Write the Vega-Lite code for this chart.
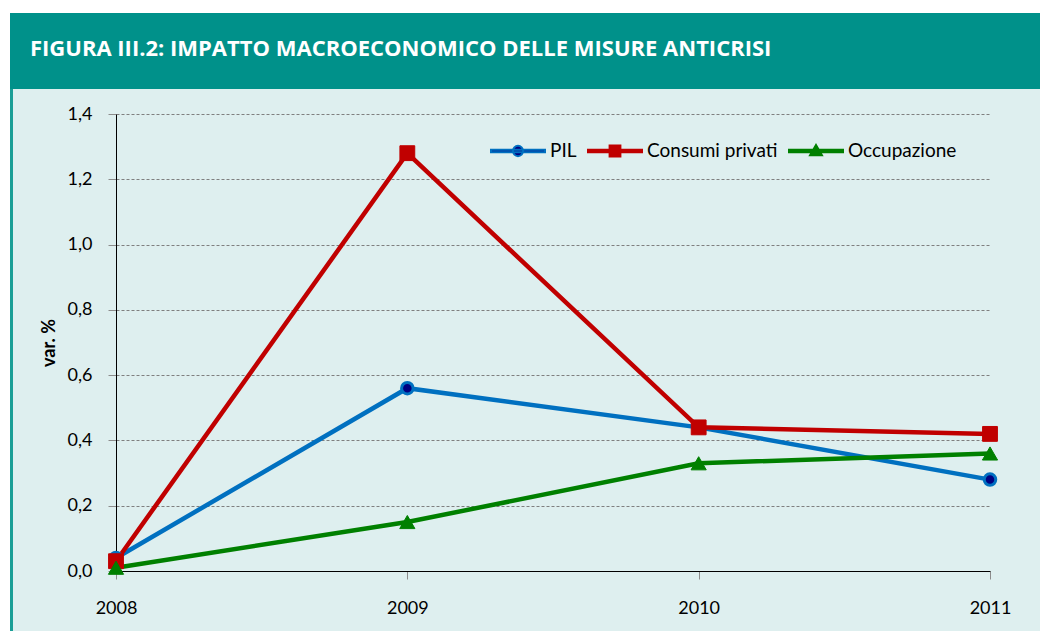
{
  "$schema": "https://vega.github.io/schema/vega-lite/v6.json",
  "background": "#DEEFEF",
  "padding": 0,
  "spacing": 0,
  "bounds": "flush",
  "config": {
    "view": {"stroke": null},
    "font": "Lato"
  },
  "vconcat": [
    {
      "width": 1040, "height": 13,
      "view": {"fill": "white", "stroke": null},
      "data": {"values": []},
      "mark": "point"
    },
    {
      "spacing": 0,
      "bounds": "flush",
      "hconcat": [
        {
          "width": 10, "height": 618,
          "view": {"fill": "white", "stroke": null},
          "data": {"values": []},
          "mark": "point"
        },
        {
          "spacing": 0,
          "bounds": "flush",
          "vconcat": [
            {
              "width": 1030, "height": 76,
              "view": {"fill": "#00918A", "stroke": null},
              "title": {
                "text": "FIGURA III.2: IMPATTO MACROECONOMICO DELLE MISURE ANTICRISI",
                "anchor": "start",
                "frame": "group",
                "orient": "top",
                "offset": 0,
                "dx": 20,
                "dy": 48,
                "font": "Open Sans",
                "fontSize": 22,
                "fontWeight": "bold",
                "color": "white"
              },
              "data": {"values": []},
              "mark": "point"
            },
            {
              "spacing": 103,
              "bounds": "flush",
              "hconcat": [
                {
                  "width": 3, "height": 542,
                  "view": {"fill": "#1A9E96", "stroke": null},
                  "data": {"values": []},
                  "mark": "point"
                },
                {
                  "spacing": 0,
                  "bounds": "flush",
                  "vconcat": [
                    {
                      "width": 1, "height": 25,
                      "data": {"values": []},
                      "mark": "point"
                    },
                    {
                      "width": 874,
                      "height": 457,
                      "data": {
                        "values": [
                          {"anno": 2008, "serie": "PIL", "valore": 0.04},
                          {"anno": 2009, "serie": "PIL", "valore": 0.56},
                          {"anno": 2010, "serie": "PIL", "valore": 0.44},
                          {"anno": 2011, "serie": "PIL", "valore": 0.28},
                          {"anno": 2008, "serie": "Consumi privati", "valore": 0.03},
                          {"anno": 2009, "serie": "Consumi privati", "valore": 1.28},
                          {"anno": 2010, "serie": "Consumi privati", "valore": 0.44},
                          {"anno": 2011, "serie": "Consumi privati", "valore": 0.42},
                          {"anno": 2008, "serie": "Occupazione", "valore": 0.01},
                          {"anno": 2009, "serie": "Occupazione", "valore": 0.15},
                          {"anno": 2010, "serie": "Occupazione", "valore": 0.33},
                          {"anno": 2011, "serie": "Occupazione", "valore": 0.36}
                        ]
                      },
                      "encoding": {
                        "x": {
                          "field": "anno",
                          "type": "quantitative",
                          "scale": {"domain": [2008, 2011], "nice": false, "zero": false},
                          "axis": {
                            "title": null,
                            "values": [2008, 2009, 2010, 2011],
                            "format": "d",
                            "grid": false,
                            "labelFlush": false,
                            "domainColor": "black",
                            "domainWidth": 1,
                            "tickColor": "#8C8C8C",
                            "tickSize": 8,
                            "labelFont": "Lato",
                            "labelFontSize": 18,
                            "labelColor": "black",
                            "labelPadding": 20
                          }
                        },
                        "y": {
                          "field": "valore",
                          "type": "quantitative",
                          "scale": {"domain": [0, 1.4], "nice": false},
                          "axis": {
                            "title": "var. %",
                            "titleFont": "Lato",
                            "titleFontSize": 18,
                            "titleFontWeight": "bold",
                            "titleColor": "black",
                            "titlePadding": 9,
                            "values": [0, 0.2, 0.4, 0.6, 0.8, 1.0, 1.2, 1.4],
                            "labelExpr": "replace(format(datum.value, '.1f'), '.', ',')",
                            "grid": true,
                            "gridColor": "#7F7F7F",
                            "gridDash": [3, 2],
                            "gridWidth": 1,
                            "domainColor": "black",
                            "domainWidth": 1,
                            "tickColor": "#8C8C8C",
                            "tickSize": 8,
                            "labelFont": "Lato",
                            "labelFontSize": 18,
                            "labelColor": "black",
                            "labelPadding": 16
                          }
                        }
                      },
                      "layer": [
                        {
                          "mark": {"type": "line", "strokeWidth": 4.5},
                          "encoding": {
                            "color": {
                              "field": "serie",
                              "type": "nominal",
                              "scale": {
                                "domain": ["PIL", "Consumi privati", "Occupazione"],
                                "range": ["#0070C0", "#C00000", "#008000"]
                              },
                              "legend": {
                                "title": null,
                                "orient": "none",
                                "legendX": 490,
                                "legendY": 123,
                                "direction": "horizontal",
                                "padding": 0,
                                "labelFont": "Lato",
                                "labelFontSize": 19,
                                "labelColor": "black",
                                "labelOffset": 4,
                                "columnPadding": 7,
                                "symbolSize": 2916,
                                "symbolStrokeWidth": 2,
                                "encode": {
                                  "symbols": {
                                    "update": {
                                      "shape": {"signal": "datum.value === 'PIL' ? 'M-1,-0.045H1V0.045H-1Z M0.19,0A0.19,0.19,0,1,1,-0.19,0A0.19,0.19,0,1,1,0.19,0Z' : datum.value === 'Consumi privati' ? 'M-1,-0.045H1V0.045H-1Z M-0.2,-0.2H0.2V0.2H-0.2Z' : 'M-1,-0.045H1V0.045H-1Z M0,-0.22L0.22,0.16H-0.22Z'"},
                                      "fill": {"signal": "datum.value === 'PIL' ? '#000080' : datum.value === 'Consumi privati' ? '#C00000' : '#008000'"},
                                      "stroke": {"signal": "datum.value === 'PIL' ? '#0070C0' : datum.value === 'Consumi privati' ? '#C00000' : '#008000'"},
                                      "strokeWidth": {"value": 2},
                                      "opacity": {"value": 1},
                                      "fillOpacity": {"value": 1}
                                    }
                                  }
                                }
                              }
                            }
                          }
                        },
                        {
                          "transform": [{"filter": "datum.serie === 'PIL'"}],
                          "mark": {"type": "point", "shape": "circle", "filled": true, "opacity": 1, "fill": "#000080", "stroke": "#0070C0", "strokeWidth": 3, "size": 133}
                        },
                        {
                          "transform": [{"filter": "datum.serie === 'Consumi privati'"}],
                          "mark": {"type": "point", "shape": "square", "filled": true, "opacity": 1, "fill": "#C00000", "stroke": "#C00000", "strokeWidth": 1, "size": 220}
                        },
                        {
                          "transform": [{"filter": "datum.serie === 'Occupazione'"}],
                          "mark": {"type": "point", "shape": "triangle-up", "filled": true, "opacity": 1, "fill": "#008000", "stroke": "#008000", "strokeWidth": 1, "size": 230}
                        }
                      ]
                    }
                  ]
                }
              ]
            }
          ]
        }
      ]
    }
  ]
}
